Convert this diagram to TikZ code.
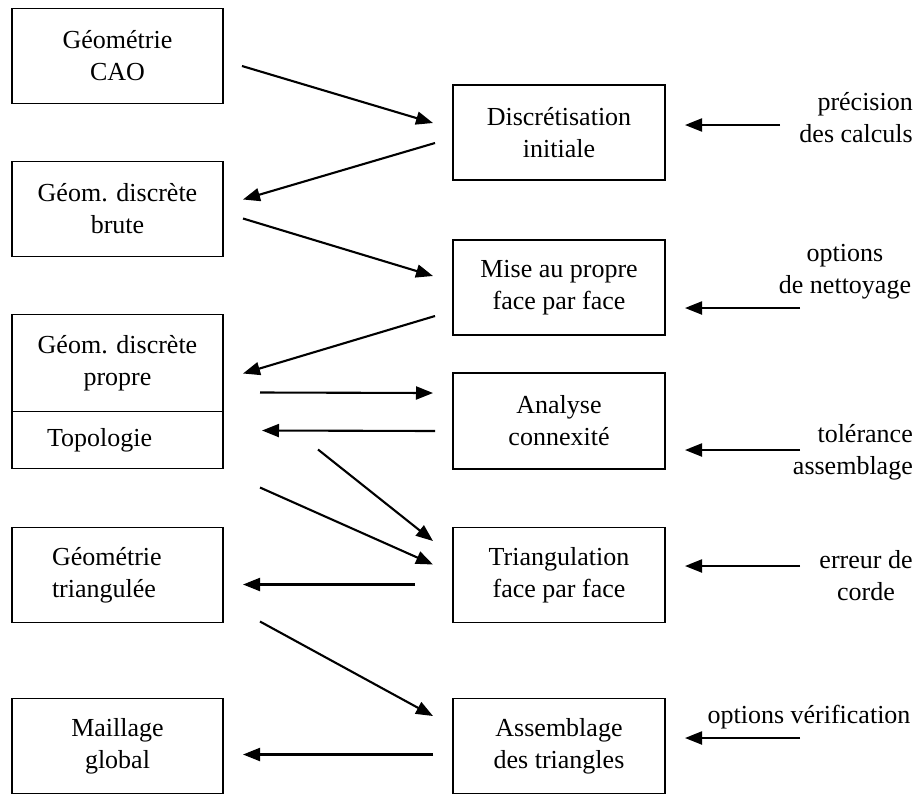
\documentclass[tikz,border=0pt]{standalone}
\usepackage{fontspec}
\setmainfont{Liberation Serif}
\usetikzlibrary{arrows.meta,positioning}
\tikzset{
  datum/.style={
    draw,
    line width=1.3pt,
    outer sep=0pt,
    minimum width=211pt,
    minimum height=95pt,
    align=center,
    font=\fontsize{26}{32}\selectfont
  },
  stage/.style={
    draw,
    line width=1.3pt,
    outer sep=0pt,
    minimum width=212pt,
    minimum height=95pt,
    align=center,
    font=\fontsize{26}{32}\selectfont
  },
  param/.style={
    inner sep=0pt,
    font=\fontsize{26}{32}\selectfont
  },
  flow/.style={-{Triangle[length=17pt,width=13pt]}, line width=2.1pt}
}

\begin{document}
\begin{tikzpicture}[x=1pt, y=-1pt, node distance=58pt]
  \useasboundingbox (0,0) rectangle (916,796);

  \node[datum] (cao) at (117.5,56) {Géométrie\\CAO};
  \node[datum, below=of cao] (brute) {Géom. discrète\\brute};
  \node[datum, below=of brute, minimum height=97pt] (propre) {Géom. discrète\\propre};
  \node[datum, below=0pt of propre, minimum height=57pt, text width=141pt, inner xsep=35pt, align=left] (topo) {Topologie};
  \node[datum, below=59pt of topo, text width=131pt, inner xsep=40pt, align=left] (triang) {Géométrie\\triangulée};
  \node[datum, below=76pt of triang] (maillage) {Maillage\\global};

  \node[stage] (discr) at (559,132.5) {Discrétisation\\initiale};
  \node[stage, below=60pt of discr] (mise) {Mise au propre\\face par face};
  \node[stage, below=38pt of mise, minimum height=96pt] (analyse) {Analyse\\connexité};
  \node[stage, right=230pt of triang] (triangul) {Triangulation\\face par face};
  \node[stage, right=230pt of maillage] (assemb) {Assemblage\\des triangles};

  \node[param, anchor=east, align=right] (prec) at (913,118) {précision\\des calculs};
  \node[param, align=center] (nett) at (845,272) {options\\de nettoyage};
  \node[param, anchor=east, align=right] (tol) at (913,452) {tolérance\\assemblage};
  \node[param, align=center] (corde) at (866,576) {erreur de\\corde};
  \node[param] (verif) at (809,717) {options vérification};

  \coordinate (precin) at (780,125);
  \coordinate (nettin) at (800,308);
  \coordinate (tolin) at (800,450);
  \coordinate (cordein) at (800,566);
  \coordinate (verifin) at (800,738);

  \draw[flow] ([shift={(19,10)}]cao.east) -- ([shift={(-20,-9.5)}]discr.west);
  \draw[flow] ([shift={(-18,10.5)}]discr.west) -- ([shift={(20,-9.5)}]brute.east);
  \draw[flow] ([shift={(20,9.5)}]brute.east) -- ([shift={(-20,-11.5)}]mise.west);
  \draw[flow] ([shift={(-18,28.5)}]mise.west) -- ([shift={(20,10.5)}]propre.east);
  \draw[flow] ([shift={(37,29.5)}]propre.east) -- ([shift={(-20,-28)}]analyse.west);
  \draw[flow] ([shift={(-18,10)}]analyse.west) -- ([shift={(39,-9.5)}]topo.east);
  \draw[flow] ([shift={(95,9.5)}]topo.east) -- ([shift={(-20,-34)}]triangul.west);
  \draw[flow] ([shift={(37,19)}]topo.south east) -- ([shift={(-20,-10.5)}]triangul.west);
  \draw[flow] ([shift={(-38,9.5)}]triangul.west) -- ([shift={(20,9.5)}]triang.east);
  \draw[flow] ([shift={(37,-1)}]triang.south east) -- ([shift={(-20,-30)}]assemb.west);
  \draw[flow] ([shift={(-20,8.5)}]assemb.west) -- ([shift={(20,8.5)}]maillage.east);

  \draw[flow, shorten >=20pt] (precin) -- (precin -| discr.east);
  \draw[flow, shorten >=20pt] (nettin) -- (nettin -| mise.east);
  \draw[flow, shorten >=20pt] (tolin) -- (tolin -| analyse.east);
  \draw[flow, shorten >=20pt] (cordein) -- (cordein -| triangul.east);
  \draw[flow, shorten >=20pt] (verifin) -- (verifin -| assemb.east);
\end{tikzpicture}
\end{document}
